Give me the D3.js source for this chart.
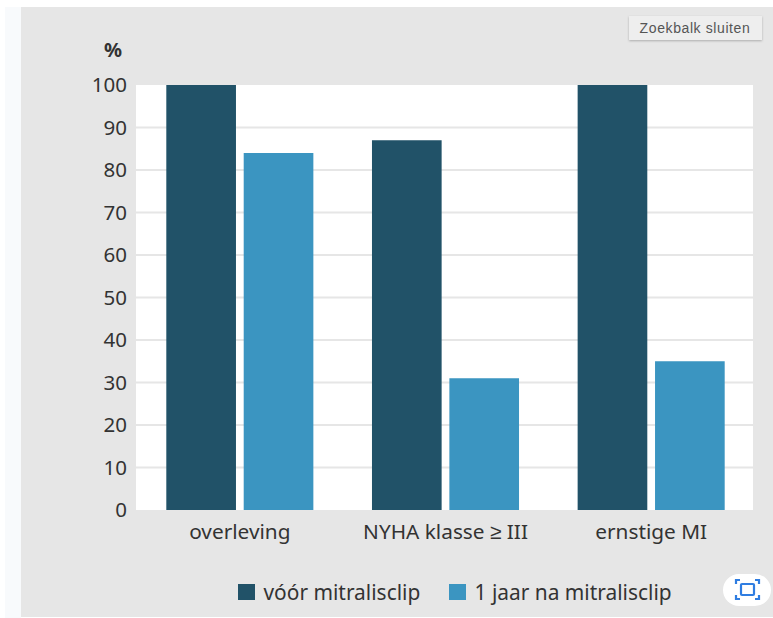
<!DOCTYPE html>
<html>
<head>
<meta charset="utf-8">
<script src="https://cdn.jsdelivr.net/npm/d3@7/dist/d3.min.js"></script>
<style>
html,body{margin:0;padding:0;background:#fff}
svg{display:block}
text{font-family:"Noto Sans",sans-serif;fill:#333}
</style>
</head>
<body>
<svg id="chart" width="773" height="618"></svg>
<script>
const categories = ["overleving", "NYHA klasse ≥ III", "ernstige MI"];
const seriesNames = ["vóór mitralisclip", "1 jaar na mitralisclip"];
const seriesColors = ["#215268", "#3b95c1"];
const voorValues = [100, 87, 100];
const naValues = [84, 31, 35];
const yTicks = [0, 10, 20, 30, 40, 50, 60, 70, 80, 90, 100];
const unitLabel = "%";
const buttonLabel = "Zoekbalk sluiten";

const svg = d3.select("#chart");
const plot = {left: 136, right: 753, top: 85, bottom: 510};

svg.append("rect").attr("x", 5).attr("y", 7).attr("width", 16).attr("height", 611).attr("fill", "#f8fafc");
svg.append("rect").attr("x", 21).attr("y", 7).attr("width", 752).attr("height", 610).attr("fill", "#e6e6e6");
svg.append("rect").attr("x", plot.left).attr("y", plot.top)
  .attr("width", plot.right - plot.left).attr("height", plot.bottom - plot.top).attr("fill", "#fff");

const y = d3.scaleLinear().domain([0, 100]).range([plot.bottom, plot.top]);
const x0 = d3.scaleBand().domain(categories).range([plot.left + 1, plot.right + 1]).paddingInner(0.285).paddingOuter(0.1425);
const x1 = d3.scaleBand().domain([0, 1]).range([0, x0.bandwidth()]).paddingInner(0.1);

// grid
svg.append("g").selectAll("line").data(yTicks.filter(t => t > 0 && t < 100)).join("line")
  .attr("x1", plot.left).attr("x2", plot.right)
  .attr("y1", d => y(d)).attr("y2", d => y(d))
  .attr("stroke", "#e6e6e6").attr("stroke-width", 2);

// bars
[voorValues, naValues].forEach((vals, s) => {
  svg.append("g").selectAll("rect").data(vals).join("rect")
    .attr("x", (d, i) => x0(categories[i]) + x1(s))
    .attr("width", x1.bandwidth())
    .attr("y", d => y(d))
    .attr("height", d => y(0) - y(d))
    .attr("fill", seriesColors[s]);
});

// y axis
const yAxis = svg.append("g").attr("transform", `translate(${plot.left},0)`)
  .call(d3.axisLeft(y).tickValues(yTicks).tickSize(0).tickPadding(9));
yAxis.select(".domain").remove();
yAxis.selectAll("text").attr("font-size", 20.5).style("font-family", '"Noto Sans",sans-serif').attr("fill", "#333");

// x axis
const xAxis = svg.append("g").attr("transform", `translate(0,${plot.bottom})`)
  .call(d3.axisBottom(x0).tickSize(0).tickPadding(14));
xAxis.select(".domain").remove();
xAxis.selectAll("text").attr("font-size", 20.8).style("font-family", '"Noto Sans",sans-serif').attr("fill", "#333");

// unit
svg.append("text").attr("x", 122).attr("y", 57).attr("text-anchor", "end")
  .attr("font-size", 20).attr("font-weight", 700).text(unitLabel);

// legend
const legendX = [238, 449];
seriesNames.forEach((n, i) => {
  svg.append("rect").attr("x", legendX[i]).attr("y", 584).attr("width", 17).attr("height", 16).attr("fill", seriesColors[i]);
  svg.append("text").attr("x", legendX[i] + 25.5).attr("y", 599.5).attr("font-size", 20.9).text(n);
});

// browser overlay: close button
const defs = svg.append("defs");
const f = defs.append("filter").attr("id", "sh").attr("x", "-10%").attr("y", "-20%").attr("width", "120%").attr("height", "150%");
f.append("feDropShadow").attr("dx", 0).attr("dy", 1).attr("stdDeviation", 1).attr("flood-color", "#000").attr("flood-opacity", 0.25);
svg.append("rect").attr("x", 629).attr("y", 16).attr("width", 133).attr("height", 24)
  .attr("fill", "#eeeeee").attr("filter", "url(#sh)");
svg.append("text").attr("x", 695).attr("y", 33).attr("text-anchor", "middle")
  .attr("font-size", 14).attr("letter-spacing", 0.6).style("font-family", '"Liberation Sans",sans-serif').style("fill", "#555").text(buttonLabel);

// browser overlay: screenshot icon
svg.append("rect").attr("x", 723).attr("y", 574).attr("width", 48).attr("height", 32).attr("rx", 16).attr("fill", "#fff");
const ic = svg.append("g").attr("fill", "none").attr("stroke", "#2f7de1").attr("stroke-width", 2.2);
ic.append("rect").attr("x", 741).attr("y", 584).attr("width", 13).attr("height", 11).attr("rx", 1);
ic.append("path").attr("d", "M736 584v-4h4M755 580h4v4M759 595v4h-4M740 599h-4v-4");
</script>
</body>
</html>
